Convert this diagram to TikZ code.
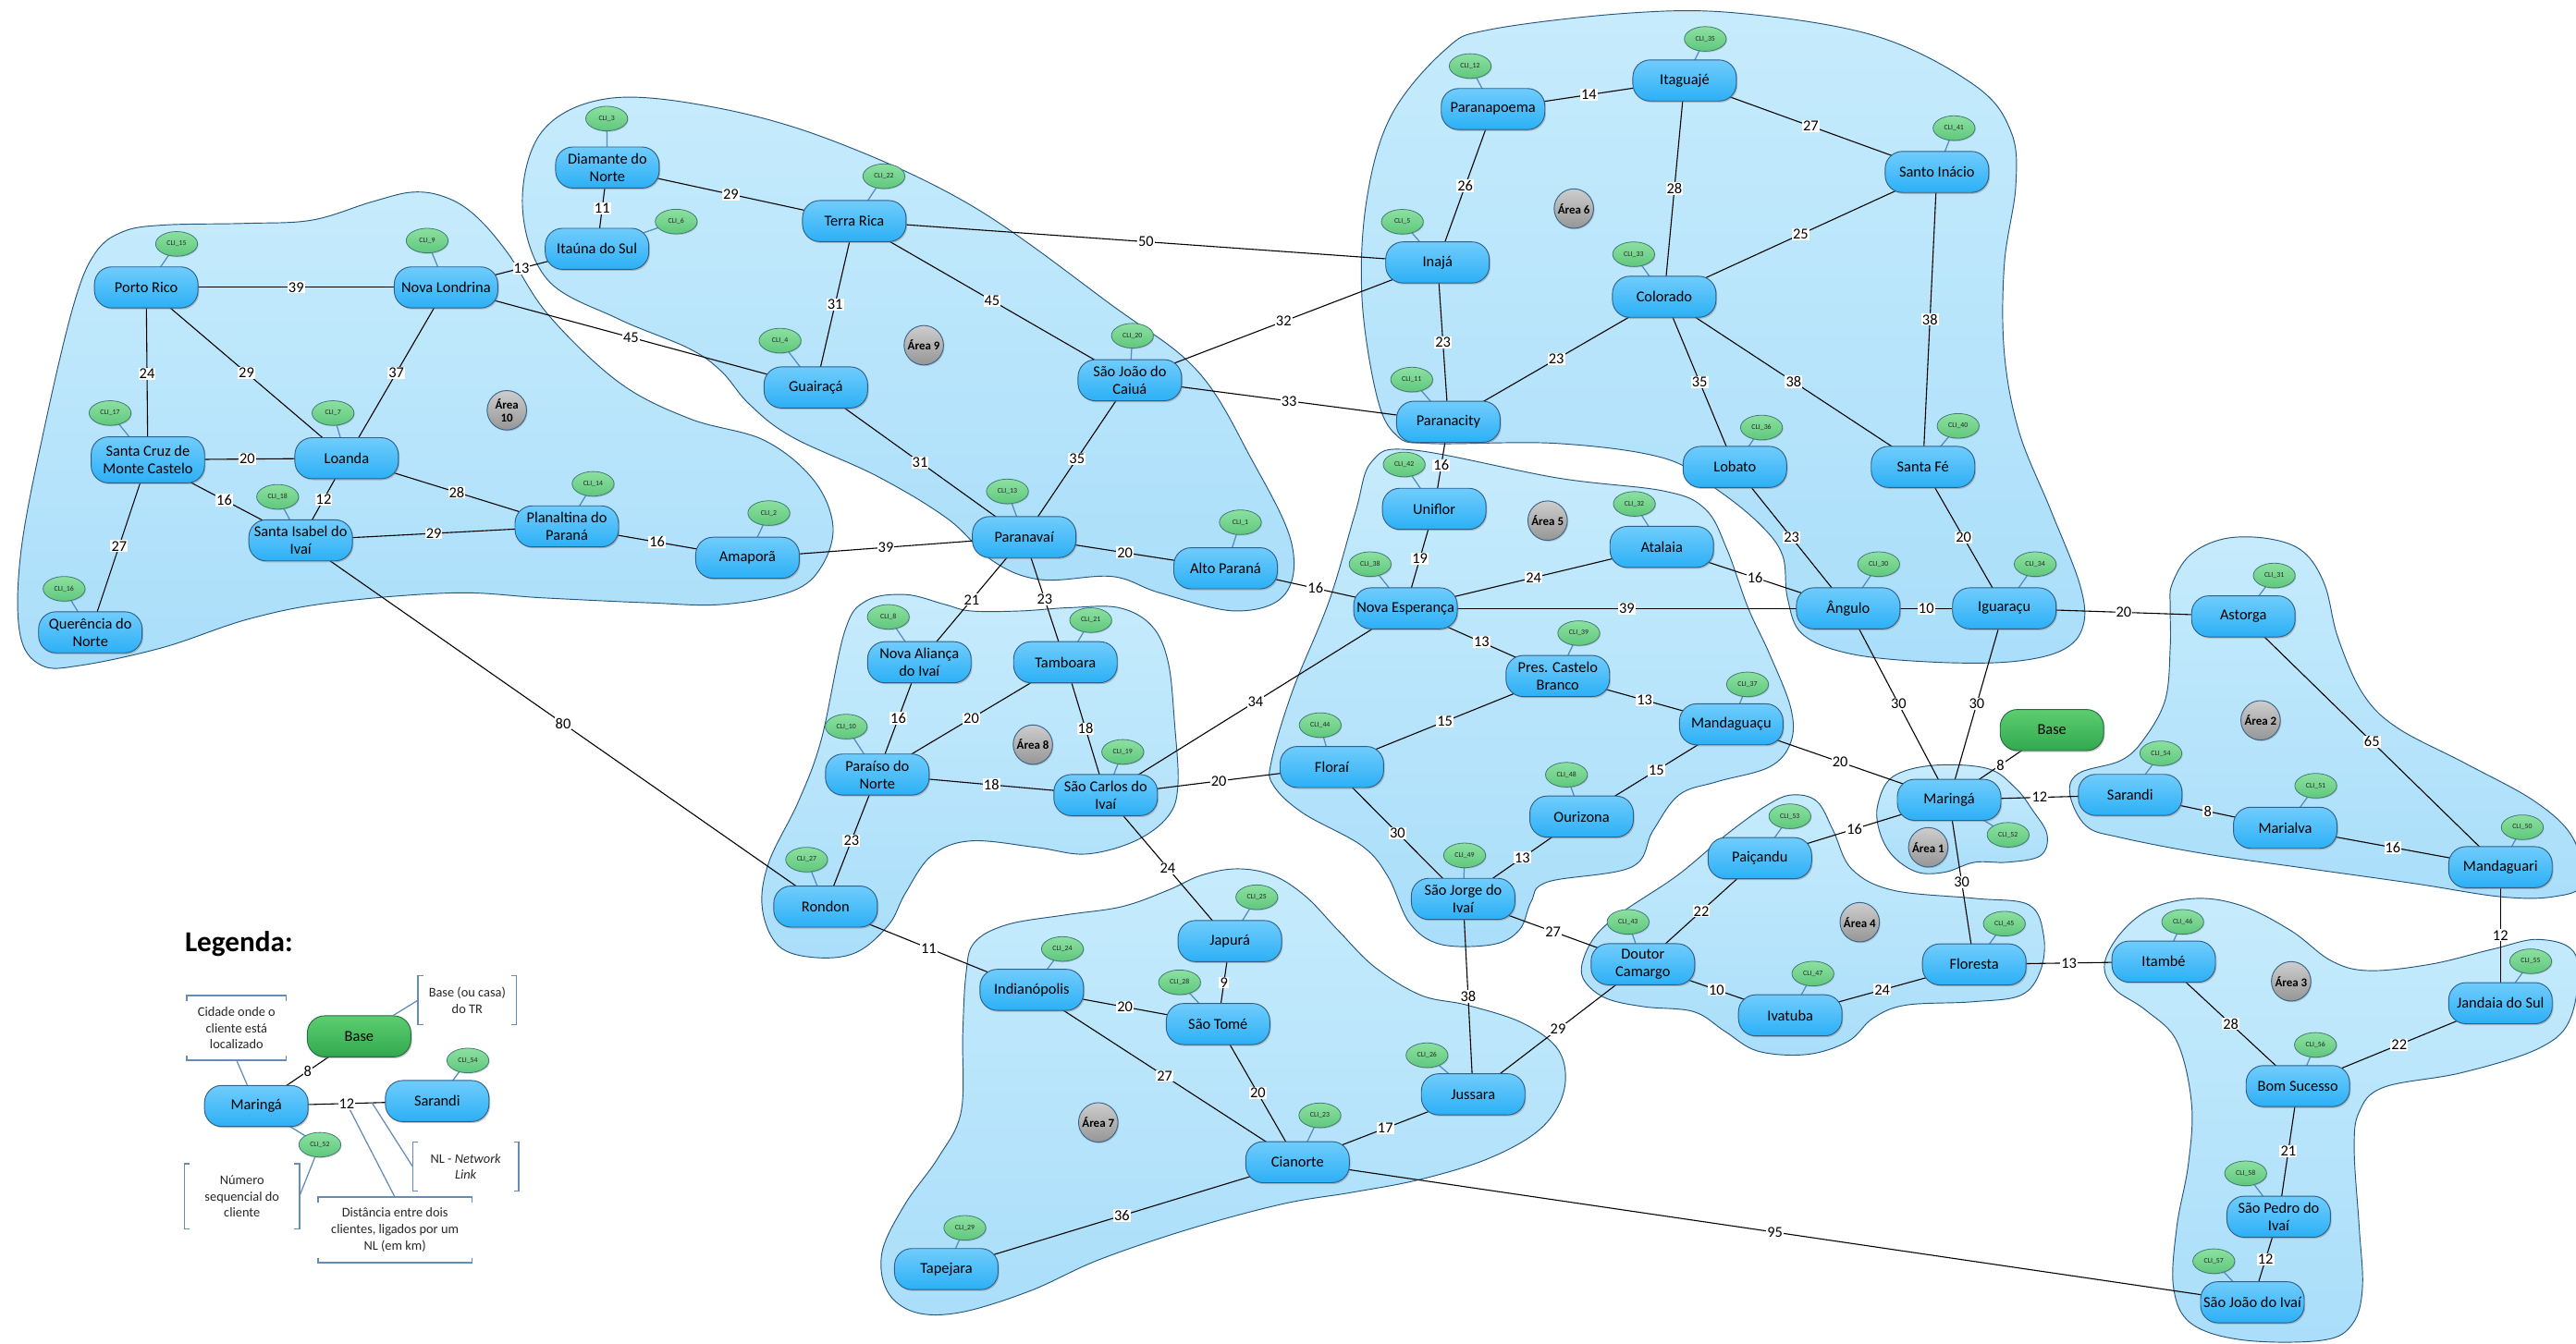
\documentclass[tikz,border=0pt]{standalone}
\usepackage{fontspec}
\setmainfont{Carlito}
\usetikzlibrary{shapes.geometric,shadows,calc}

\definecolor{citytop}{RGB}{112,204,252}
\definecolor{citybot}{RGB}{44,176,246}
\definecolor{cityline}{RGB}{46,96,140}
\definecolor{clitop}{RGB}{140,224,160}
\definecolor{clibot}{RGB}{96,200,125}
\definecolor{cliline}{RGB}{62,124,116}
\definecolor{areatop}{RGB}{205,205,205}
\definecolor{areabot}{RGB}{150,150,150}
\definecolor{arealine}{RGB}{60,100,140}
\definecolor{basetop}{RGB}{92,206,112}
\definecolor{basebot}{RGB}{50,168,78}
\definecolor{basedraw}{RGB}{40,104,72}
\definecolor{blobtop}{RGB}{198,235,252}
\definecolor{blobbot}{RGB}{170,222,250}
\definecolor{blobline}{RGB}{36,86,126}
\definecolor{tiecol}{RGB}{80,140,190}
\definecolor{brkcol}{RGB}{100,140,180}

\newcommand\citytext{\fontsize{10.5}{12.2}\selectfont}
\newcommand\clitext{\fontsize{5}{6}\selectfont}
\newcommand\areatext{\fontsize{8.3}{9.2}\selectfont\bfseries}
\newcommand\lbltext{\fontsize{10.5}{12}\selectfont}
\newcommand\legtext{\fontsize{9.2}{11.4}\selectfont}

% network link between two cities, labelled with the distance
\newcommand\netlink[3]{\draw[nlink] (#1.center) -- (#2.center) node[lbl] {#3};}
% thin tie between a client bubble and its city
\newcommand\clitie[2]{\draw[tie] (#1.center) -- (#2.center);}
% bracket frames for the legend notes
\newcommand\hbrk[1]{%
  \draw[brkline] ([yshift=-3.5pt]#1.north west) -- (#1.north west) -- (#1.north east) -- ([yshift=-3.5pt]#1.north east);
  \draw[brkline] ([yshift=3.5pt]#1.south west) -- (#1.south west) -- (#1.south east) -- ([yshift=3.5pt]#1.south east);}
\newcommand\vbrk[1]{%
  \draw[brkline] ([xshift=3.5pt]#1.north west) -- (#1.north west) -- (#1.south west) -- ([xshift=3.5pt]#1.south west);
  \draw[brkline] ([xshift=-3.5pt]#1.north east) -- (#1.north east) -- (#1.south east) -- ([xshift=-3.5pt]#1.south east);}

\pgfdeclarelayer{blobs}
\pgfdeclarelayer{links}
\pgfsetlayers{blobs,links,main}

\tikzset{
  city/.style={draw=cityline, line width=0.6pt, rounded corners=0.42cm,
    top color=citytop, bottom color=citybot, minimum width=2.52cm,
    minimum height=1cm, inner xsep=1.5pt, inner ysep=1pt, align=center,
    font=\citytext, text=black,
    drop shadow={shadow xshift=0.8pt, shadow yshift=-1pt, opacity=0.45}},
  basebox/.style={city, draw=basedraw, top color=basetop, bottom color=basebot},
  cli/.style={ellipse, draw=cliline, line width=0.5pt, top color=clitop,
    bottom color=clibot, minimum width=1.02cm, minimum height=0.6cm,
    inner sep=0pt, font=\clitext, text=black!85,
    drop shadow={shadow xshift=0.6pt, shadow yshift=-0.7pt, opacity=0.35}},
  areadot/.style={circle, draw=arealine, line width=0.6pt, top color=areatop,
    bottom color=areabot, minimum size=0.96cm, inner sep=0pt, align=center,
    font=\areatext, drop shadow={shadow xshift=0.7pt, shadow yshift=-0.8pt, opacity=0.4}},
  nlink/.style={draw=black, line width=0.7pt},
  lbl/.style={midway, fill=white, inner sep=0.7pt, font=\lbltext},
  tie/.style={draw=tiecol, line width=0.8pt},
  blob/.style={draw=blobline, line width=0.6pt, top color=blobtop, bottom color=blobbot},
  brk/.style={align=center, font=\legtext, inner sep=0pt, text=black!85},
  brkline/.style={draw=brkcol, line width=1pt},
  lead/.style={draw=brkcol, line width=0.8pt},
}

\begin{document}
\begin{tikzpicture}[x=0.04cm, y=-0.04cm]
\useasboundingbox (0,0) rectangle (1568,818);

% ---------------- area regions ----------------
\begin{pgfonlayer}{blobs}
\fill[white] (0,0) rectangle (1568,818);
% Area 10
\draw[blob] plot[smooth cycle, tension=0.6] coordinates {
 (25,405) (12,385) (13,334) (28,256) (45,185) (58,154) (75,141) (100,137)
 (150,136) (190,134) (226,123) (251,117) (271,120) (289,131) (309,154)
 (334,192) (377,233) (420,255) (465,268) (495,292) (507,320) (500,345)
 (482,360) (440,368) (394,367) (330,364) (276,361) (201,367) (151,377)
 (100,394) (50,405)};
% Area 9
\draw[blob] plot[smooth cycle, tension=0.6] coordinates {
 (330,80) (370,60) (433,65) (505,85) (591,125) (677,186) (729,226)
 (762,280) (786,330) (782,362) (752,372) (706,361) (677,351) (634,353)
 (605,342) (577,316) (534,290) (482,266) (456,246) (439,226) (419,212)
 (376,194) (333,170) (318,125)};
% Area 6
\draw[blob] plot[smooth cycle, tension=0.6] coordinates {
 (880,30) (907,18) (991,8) (1058,8) (1142,22) (1202,52) (1224,80)
 (1227,113) (1220,161) (1220,215) (1229,263) (1248,310) (1266,356)
 (1268,381) (1255,396) (1223,403) (1174,403) (1126,398) (1097,386)
 (1088,364) (1085,338) (1071,319) (1045,298) (1013,279) (948,270)
 (870,270) (850,265) (838,241) (829,181) (832,121) (847,70)};
% Area 5
\draw[blob] plot[smooth cycle, tension=0.6] coordinates {
 (835,281) (860,274) (948,291) (1013,299) (1038,310) (1051,334)
 (1064,370) (1077,398) (1090,431) (1090,452) (1077,467) (1045,476)
 (1022,484) (1006,506) (993,528) (942,537) (932,549) (925,566)
 (909,575) (877,575) (858,562) (845,534) (829,515) (793,495) (775,478)
 (774,463) (787,420) (809,366) (825,312)};
% Area 8
\draw[blob] plot[smooth cycle, tension=0.6] coordinates {
 (551,362) (575,368) (591,372) (621,372) (651,370) (681,370) (701,381)
 (711,403) (715,441) (717,478) (711,497) (691,512) (661,520) (631,516)
 (591,512) (567,521) (551,544) (541,563) (521,580) (496,583) (474,576)
 (464,553) (468,525) (486,488) (500,450) (514,385) (527,366)};
% Area 7
\draw[blob] plot[smooth cycle, tension=0.6] coordinates {
 (593,574) (613,563) (649,557) (683,552) (711,542) (731,533) (753,529)
 (775,533) (795,546) (815,567) (837,589) (865,606) (893,612) (927,623)
 (949,640) (952,664) (938,687) (907,705) (865,718) (823,726) (781,733)
 (725,748) (669,767) (627,786) (585,799) (557,799) (540,786) (537,762)
 (551,733) (571,705) (585,677) (586,630) (588,593)};
% Area 4
\draw[blob] plot[smooth cycle, tension=0.6] coordinates {
 (1091,484) (1106,488) (1116,506) (1127,529) (1152,542) (1202,547)
 (1235,551) (1244,570) (1242,591) (1230,606) (1200,610) (1160,612)
 (1140,620) (1125,634) (1100,642) (1070,640) (1050,628) (1031,616)
 (1001,613) (978,608) (965,598) (963,587) (971,570) (988,555)
 (1021,533) (1051,508) (1076,490)};
% Area 1
\draw[blob] plot[smooth cycle, tension=0.6] coordinates {
 (1143,490) (1152,473) (1177,466) (1210,468) (1227,480) (1237,493)
 (1246,508) (1242,521) (1222,525) (1202,525) (1184,531) (1167,531)
 (1152,521) (1144,506)};
% Area 2
\draw[blob] plot[smooth cycle, tension=0.6] coordinates {
 (1322,356) (1333,338) (1354,328) (1381,328) (1402,336) (1415,356)
 (1423,388) (1438,422) (1459,443) (1501,465) (1543,488) (1566,510)
 (1572,538) (1554,546) (1522,546) (1470,538) (1406,529) (1343,520)
 (1291,510) (1270,503) (1260,484) (1265,471) (1291,463) (1305,450)
 (1318,426) (1321,394) (1321,370)};
% Area 3
\draw[blob] plot[smooth cycle, tension=0.6] coordinates {
 (1281,587) (1291,568) (1310,553) (1338,547) (1366,552) (1395,567)
 (1419,585) (1442,591) (1480,587) (1517,578) (1546,572) (1568,582)
 (1565,619) (1546,638) (1499,653) (1451,662) (1436,677) (1433,700)
 (1436,747) (1438,784) (1432,806) (1414,816) (1366,816) (1334,806)
 (1323,784) (1325,747) (1332,709) (1334,672) (1325,634) (1306,615)
 (1287,602)};
\end{pgfonlayer}

% ---------------- cities ----------------
\node[city] (pr)  at (89,175)     {Porto Rico};
\node[city] (nlo) at (271.5,175)  {Nova Londrina};
\node[city, minimum width=2.76cm, minimum height=1.12cm] (scm) at (90,280) {Santa Cruz de\\Monte Castelo};
\node[city] (loa) at (211,279)    {Loanda};
\node[city] (sib) at (183,329)    {Santa Isabel do\\Ivaí};
\node[city] (pla) at (345,320.5)  {Planaltina do\\Paraná};
\node[city] (que) at (55,385)     {Querência do\\Norte};
\node[city] (ama) at (455,339.6)  {Amaporã};
\node[city] (dia) at (369.7,102)  {Diamante do\\Norte};
\node[city] (ita) at (363.4,151.5) {Itaúna do Sul};
\node[city] (ter) at (520,134.6)  {Terra Rica};
\node[city] (gua) at (496.6,235.9) {Guairaçá};
\node[city] (sjc) at (687.7,231.5) {São João do\\Caiuá};
\node[city] (pvi) at (623.4,327)  {Paranavaí};
\node[city] (alp) at (746,346)    {Alto Paraná};
\node[city] (ppo) at (908.8,66.4) {Paranapoema};
\node[city] (itg) at (1025.4,49)  {Itaguajé};
\node[city] (sin) at (1179,104.7) {Santo Inácio};
\node[city] (ina) at (875,159.8)  {Inajá};
\node[city] (col) at (1013,180.7) {Colorado};
\node[city] (pcy) at (881.6,256.8) {Paranacity};
\node[city] (lob) at (1056,284.3) {Lobato};
\node[city] (sfe) at (1170.5,284.3) {Santa Fé};
\node[city] (uni) at (873,309.8)  {Uniflor};
\node[city] (ata) at (1011.5,333) {Atalaia};
\node[city] (nes) at (855.5,370.4) {Nova Esperança};
\node[city] (ang) at (1125,370.4) {Ângulo};
\node[city] (igu) at (1220,370.4) {Iguaraçu};
\node[city] (ast) at (1365.5,375.3) {Astorga};
\node[city] (pcb) at (948.2,411.6) {Pres. Castelo\\Branco};
\node[city] (mgc) at (1053.8,441) {Mandaguaçu};
\node[city] (flo) at (810.7,467)  {Floraí};
\node[city] (our) at (962.7,497.2) {Ourizona};
\node[city] (sjv) at (890.6,547.3) {São Jorge do\\Ivaí};
\node[city] (mar) at (1186.4,487) {Maringá};
\node[basebox] (bas) at (1249,444.5) {Base};
\node[city] (sar) at (1296.6,484) {Sarandi};
\node[city] (mal) at (1391,504)   {Marialva};
\node[city] (mgi) at (1522,528)   {Mandaguari};
\node[city] (pai) at (1071.2,522.5) {Paiçandu};
\node[city] (dca) at (1000,587.1) {Doutor\\Camargo};
\node[city] (iva) at (1089.7,618.2) {Ivatuba};
\node[city] (fst) at (1201.7,587.2) {Floresta};
\node[city] (itb) at (1317,585.5) {Itambé};
\node[city] (jds) at (1522,610.8) {Jandaia do Sul};
\node[city] (bsu) at (1398.7,661.3) {Bom Sucesso};
\node[city] (spi) at (1387,740.8) {São Pedro do\\Ivaí};
\node[city] (sji) at (1371,792.9) {São João do Ivaí};
\node[city] (nai) at (559.6,403.2) {Nova Aliança\\do Ivaí};
\node[city] (tam) at (648.5,403.2) {Tamboara};
\node[city] (pno) at (534,471.6)  {Paraíso do\\Norte};
\node[city] (sci) at (673,484.1)  {São Carlos do\\Ivaí};
\node[city] (ron) at (502.5,552)  {Rondon};
\node[city] (jap) at (748.6,573)  {Japurá};
\node[city] (ind) at (628,602.7)  {Indianópolis};
\node[city] (sto) at (741.4,623.5) {São Tomé};
\node[city] (cia) at (789.8,707.6) {Cianorte};
\node[city] (jus) at (896.7,666.3) {Jussara};
\node[city] (tap) at (576,772.7)  {Tapejara};

% ---------------- clients ----------------
\node[cli] (c15) at (107.5,148.5) {CLI\_15};
\node[cli] (c9)  at (260,146.5)   {CLI\_9};
\node[cli] (c17) at (67,251.5)    {CLI\_17};
\node[cli] (c7)  at (202.7,251.5) {CLI\_7};
\node[cli] (c18) at (169,302.5)   {CLI\_18};
\node[cli] (c14) at (361,294.6)   {CLI\_14};
\node[cli] (c16) at (39,358.5)    {CLI\_16};
\node[cli] (c2)  at (468,312.4)   {CLI\_2};
\node[cli] (c3)  at (369.3,72.2)  {CLI\_3};
\node[cli] (c6)  at (411.6,134.9) {CLI\_6};
\node[cli] (c22) at (538,107.3)   {CLI\_22};
\node[cli] (c4)  at (474.8,207.4) {CLI\_4};
\node[cli] (c20) at (689.3,204.4) {CLI\_20};
\node[cli] (c13) at (613.2,299.2) {CLI\_13};
\node[cli] (c1)  at (755,318)     {CLI\_1};
\node[cli] (c12) at (894.9,40.2)  {CLI\_12};
\node[cli] (c35) at (1038,23.7)   {CLI\_35};
\node[cli] (c41) at (1189.4,78)   {CLI\_41};
\node[cli] (c5)  at (853.6,135)   {CLI\_5};
\node[cli] (c33) at (994.4,154.8) {CLI\_33};
\node[cli] (c11) at (859.3,231.1) {CLI\_11};
\node[cli] (c36) at (1072.2,260.3) {CLI\_36};
\node[cli] (c40) at (1191.9,259.3) {CLI\_40};
\node[cli] (c42) at (854.7,282.8) {CLI\_42};
\node[cli] (c32) at (994.8,306.8) {CLI\_32};
\node[cli] (c38) at (834,343.5)   {CLI\_38};
\node[cli] (c30) at (1143.5,343.5) {CLI\_30};
\node[cli] (c34) at (1238.8,343.5) {CLI\_34};
\node[cli] (c31) at (1384.3,350.4) {CLI\_31};
\node[cli] (c39) at (961,385.5)   {CLI\_39};
\node[cli] (c37) at (1063.7,416.7) {CLI\_37};
\node[cli] (c44) at (803.6,441.5) {CLI\_44};
\node[cli] (c48) at (953.5,471.7) {CLI\_48};
\node[cli] (c49) at (891.5,520.8) {CLI\_49};
\node[cli] (c52) at (1222.3,508.3) {CLI\_52};
\node[cli] (c53) at (1089.5,497)  {CLI\_53};
\node[cli] (c54) at (1315.3,458.7) {CLI\_54};
\node[cli] (c51) at (1409.6,478.4) {CLI\_51};
\node[cli] (c50) at (1535.3,503.7) {CLI\_50};
\node[cli] (c43) at (991,561.3)   {CLI\_43};
\node[cli] (c47) at (1103.5,592.8) {CLI\_47};
\node[cli] (c45) at (1220,562.4)  {CLI\_45};
\node[cli] (c46) at (1328.6,561.3) {CLI\_46};
\node[cli] (c55) at (1540.4,585.3) {CLI\_55};
\node[cli] (c56) at (1409.4,636.2) {CLI\_56};
\node[cli] (c58) at (1366.9,714.4) {CLI\_58};
\node[cli] (c57) at (1347.5,767.9) {CLI\_57};
\node[cli] (c8)  at (540.7,375.6) {CLI\_8};
\node[cli] (c21) at (663.9,377.6) {CLI\_21};
\node[cli] (c10) at (515.1,442.4) {CLI\_10};
\node[cli] (c19) at (683.4,457.8) {CLI\_19};
\node[cli] (c27) at (491,523.4)   {CLI\_27};
\node[cli] (c25) at (765,546.3)   {CLI\_25};
\node[cli] (c24) at (646.7,577.8) {CLI\_24};
\node[cli] (c28) at (718,598.1)   {CLI\_28};
\node[cli] (c23) at (803.4,679.1) {CLI\_23};
\node[cli] (c26) at (868.6,642.5) {CLI\_26};
\node[cli] (c29) at (587.3,747.6) {CLI\_29};

% ---------------- area markers ----------------
\node[areadot] (a1)  at (1173.7,515.9) {Área 1};
\node[areadot] (a2)  at (1376,438.6)   {Área 2};
\node[areadot] (a3)  at (1394.6,597.5) {Área 3};
\node[areadot] (a4)  at (1132,561.5)   {Área 4};
\node[areadot] (a5)  at (942,317)      {Área 5};
\node[areadot] (a6)  at (958,127)      {Área 6};
\node[areadot] (a7)  at (668.5,683.4)  {Área 7};
\node[areadot] (a8)  at (628.7,453.4)  {Área 8};
\node[areadot] (a9)  at (562.3,210.2)  {Área 9};
\node[areadot] (a10) at (308.5,249.8)  {Área\\10};

% ---------------- legend ----------------
\node[font=\fontsize{20}{24}\selectfont\bfseries, inner sep=0pt] (legtitle) at (145.4,575) {Legenda:};
\node[basebox] (lbase) at (218.6,631) {Base};
\node[city] (lmar) at (156,673.4) {Maringá};
\node[city] (lsar) at (266.1,670.4) {Sarandi};
\node[cli] (lc54) at (284.8,645.7) {CLI\_54};
\node[cli] (lc52) at (194.7,697) {CLI\_52};

\node[brk, minimum width=2.4cm, minimum height=1.56cm] (lcid) at (144,625.9) {Cidade onde o\\cliente está\\localizado};
\node[brk, minimum width=2.38cm, minimum height=1.18cm] (lbasebr) at (284.4,609) {Base (ou casa)\\do TR};
\node[brk, minimum width=2.57cm, minimum height=1.18cm] (lnl) at (283.5,710.3) {NL - \textit{Network}\\\textit{Link}};
\node[brk, minimum width=3.73cm, minimum height=1.58cm] (ldist) at (240.4,748.9) {Distância entre dois\\clientes, ligados por um\\NL (em km)};
\node[brk, minimum width=2.78cm, minimum height=1.58cm] (lnum) at (147.3,728.4) {Número\\sequencial do\\cliente};
\hbrk{lcid}
\vbrk{lbasebr}
\vbrk{lnl}
\hbrk{ldist}
\vbrk{lnum}

% ---------------- links ----------------
\begin{pgfonlayer}{links}
\netlink{pr}{nlo}{39}
\netlink{pr}{scm}{24}
\netlink{pr}{loa}{29}
\netlink{nlo}{loa}{37}
\netlink{nlo}{ita}{13}
\netlink{nlo}{gua}{45}
\netlink{scm}{loa}{20}
\netlink{scm}{sib}{16}
\netlink{scm}{que}{27}
\netlink{loa}{sib}{12}
\netlink{loa}{pla}{28}
\netlink{sib}{pla}{29}
\netlink{sib}{ron}{80}
\netlink{pla}{ama}{16}
\netlink{ama}{pvi}{39}
\netlink{dia}{ita}{11}
\netlink{dia}{ter}{29}
\netlink{ter}{gua}{31}
\netlink{ter}{sjc}{45}
\netlink{ter}{ina}{50}
\netlink{gua}{pvi}{31}
\netlink{pvi}{sjc}{35}
\netlink{pvi}{alp}{20}
\netlink{pvi}{nai}{21}
\netlink{pvi}{tam}{23}
\netlink{sjc}{ina}{32}
\netlink{sjc}{pcy}{33}
\netlink{alp}{nes}{16}
\netlink{ppo}{itg}{14}
\netlink{ppo}{ina}{26}
\netlink{itg}{sin}{27}
\netlink{itg}{col}{28}
\netlink{sin}{col}{25}
\netlink{sin}{sfe}{38}
\netlink{ina}{pcy}{23}
\netlink{col}{pcy}{23}
\netlink{col}{lob}{35}
\netlink{col}{sfe}{38}
\netlink{pcy}{uni}{16}
\netlink{lob}{ang}{23}
\netlink{sfe}{igu}{20}
\netlink{uni}{nes}{19}
\netlink{nes}{ata}{24}
\netlink{ata}{ang}{16}
\netlink{nes}{ang}{39}
\netlink{ang}{igu}{10}
\netlink{igu}{ast}{20}
\netlink{nes}{pcb}{13}
\netlink{nes}{sci}{34}
\netlink{pcb}{mgc}{13}
\netlink{pcb}{flo}{15}
\netlink{mgc}{our}{15}
\netlink{mgc}{mar}{20}
\netlink{ang}{mar}{30}
\netlink{igu}{mar}{30}
\netlink{bas}{mar}{8}
\netlink{mar}{sar}{12}
\netlink{mar}{pai}{16}
\netlink{mar}{fst}{30}
\netlink{flo}{sci}{20}
\netlink{flo}{sjv}{30}
\netlink{our}{sjv}{13}
\netlink{sjv}{dca}{27}
\netlink{sjv}{jus}{38}
\netlink{ast}{mgi}{65}
\netlink{sar}{mal}{8}
\netlink{mal}{mgi}{16}
\netlink{mgi}{jds}{12}
\netlink{pai}{dca}{22}
\netlink{dca}{iva}{10}
\netlink{iva}{fst}{24}
\netlink{fst}{itb}{13}
\netlink{dca}{jus}{29}
\netlink{itb}{bsu}{28}
\netlink{jds}{bsu}{22}
\netlink{bsu}{spi}{21}
\netlink{spi}{sji}{12}
\netlink{cia}{sji}{95}
\netlink{nai}{pno}{16}
\netlink{tam}{pno}{20}
\netlink{tam}{sci}{18}
\netlink{pno}{sci}{18}
\netlink{pno}{ron}{23}
\netlink{sci}{jap}{24}
\netlink{ron}{ind}{11}
\netlink{ind}{sto}{20}
\netlink{ind}{cia}{27}
\netlink{jap}{sto}{9}
\netlink{sto}{cia}{20}
\netlink{cia}{jus}{17}
\netlink{cia}{tap}{36}

% client ties
\clitie{c15}{pr}  \clitie{c9}{nlo}  \clitie{c17}{scm} \clitie{c7}{loa}
\clitie{c18}{sib} \clitie{c14}{pla} \clitie{c16}{que} \clitie{c2}{ama}
\clitie{c3}{dia}  \clitie{c6}{ita}  \clitie{c22}{ter} \clitie{c4}{gua}
\clitie{c20}{sjc} \clitie{c13}{pvi} \clitie{c1}{alp}  \clitie{c12}{ppo}
\clitie{c35}{itg} \clitie{c41}{sin} \clitie{c5}{ina}  \clitie{c33}{col}
\clitie{c11}{pcy} \clitie{c36}{lob} \clitie{c40}{sfe} \clitie{c42}{uni}
\clitie{c32}{ata} \clitie{c38}{nes} \clitie{c30}{ang} \clitie{c34}{igu}
\clitie{c31}{ast} \clitie{c39}{pcb} \clitie{c37}{mgc} \clitie{c44}{flo}
\clitie{c48}{our} \clitie{c49}{sjv} \clitie{c52}{mar} \clitie{c53}{pai}
\clitie{c54}{sar} \clitie{c51}{mal} \clitie{c50}{mgi} \clitie{c43}{dca}
\clitie{c47}{iva} \clitie{c45}{fst} \clitie{c46}{itb} \clitie{c55}{jds}
\clitie{c56}{bsu} \clitie{c58}{spi} \clitie{c57}{sji} \clitie{c8}{nai}
\clitie{c21}{tam} \clitie{c10}{pno} \clitie{c19}{sci} \clitie{c27}{ron}
\clitie{c25}{jap} \clitie{c24}{ind} \clitie{c28}{sto} \clitie{c23}{cia}
\clitie{c26}{jus} \clitie{c29}{tap}

% legend links
\netlink{lbase}{lmar}{8}
\draw[nlink] (lmar.center) -- (lsar.center) node[lbl] (l12) {12};
\clitie{lc54}{lsar}
\clitie{lc52}{lmar}
\end{pgfonlayer}

% legend leader lines
\coordinate (nlpt) at ($(lmar.center)!0.64!(lsar.center)$);
\draw[lead] (lcid.south) -- (lmar);
\draw[lead] (lbase) -- (lbasebr.west);
\draw[lead] (nlpt) -- (lnl.west);
\draw[lead] (l12) -- (ldist.north);
\draw[lead] (lc52) -- (lnum.east);
\end{tikzpicture}
\end{document}
